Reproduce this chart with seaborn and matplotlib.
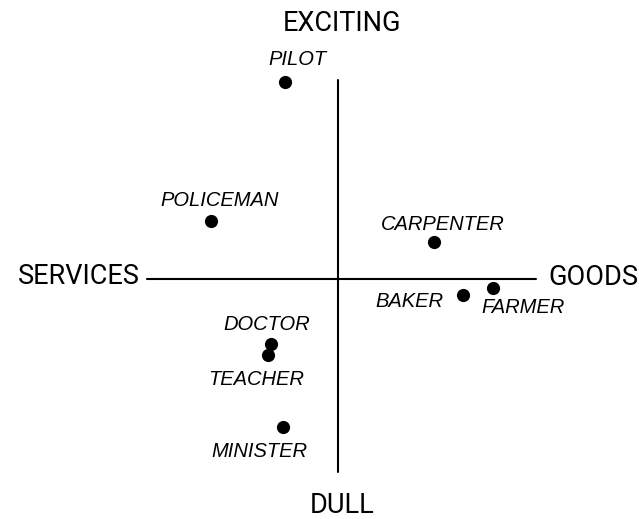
import numpy as np
import pandas as pd
import matplotlib
matplotlib.use("Agg")
import matplotlib.pyplot as plt
import seaborn as sns

# dados (eixo x: serviços -> bens, eixo y: chato -> emocionante)
jobs = ["PILOT", "POLICEMAN", "CARPENTER", "BAKER", "FARMER", "DOCTOR", "TEACHER", "MINISTER"]
goods = [-2.73, -6.53, 4.91, 6.38, 7.92, -3.47, -3.62, -2.85]
exciting = [10.10, 2.97, 1.90, -0.84, -0.49, -3.35, -3.91, -7.62]

axis_labels = ["EXCITING", "DULL", "SERVICES", "GOODS"]

df = pd.DataFrame({"job": jobs, "goods": goods, "exciting": exciting})

sns.set_theme(style="white")
plt.rcParams['font.family'] = ['Liberation Sans', 'DejaVu Sans']
plt.rcParams['text.color'] = 'black'

fig = plt.figure(figsize=(6.39, 5.19), dpi=100)
ax = fig.add_axes([0, 0, 1, 1])

# eixos cruzados
x_ends = (-9.83, 10.12)
y_ends = (-9.9, 10.19)
ax.plot(x_ends, [0, 0], color="black", lw=1.5)
ax.plot([0, 0], y_ends, color="black", lw=1.5)

sns.scatterplot(data=df, x="goods", y="exciting", s=90, color="black",
                edgecolor="black", linewidth=0, ax=ax, zorder=3)

# posição dos rótulos em relação aos pontos (pt)
offsets = {
    "PILOT": (9, 16, "center"),
    "POLICEMAN": (6, 14.4, "center"),
    "CARPENTER": (6.5, 12.7, "center"),
    "BAKER": (-14, -4.3, "right"),
    "FARMER": (-8, -14, "left"),
    "DOCTOR": (-2.7, 13.7, "center"),
    "TEACHER": (-8, -18, "center"),
    "MINISTER": (-17, -17.6, "center"),
}
for _, r in df.iterrows():
    dx, dy, ha = offsets[r["job"]]
    ax.annotate(r["job"], (r["goods"], r["exciting"]), xytext=(dx, dy),
                textcoords="offset points", ha=ha, va="center",
                fontsize=14.5, style="italic", color="black")

big = dict(fontsize=19.5, va="center", textcoords="offset points",
           family=['Roboto', 'DejaVu Sans'], color="black")
ax.annotate(axis_labels[0], (0, y_ends[1]), xytext=(3, 41), ha="center", **big)
ax.annotate(axis_labels[1], (0, y_ends[0]), xytext=(3, -24), ha="center", **big)
ax.annotate(axis_labels[2], (x_ends[0], 0), xytext=(-5, 1.5), ha="right", **big)
ax.annotate(axis_labels[3], (x_ends[1], 0), xytext=(9.5, 1.2), ha="left", **big)

ax.set_xlim(-338.3 / 19.5, (639 - 338.3) / 19.5)
ax.set_ylim((278.7 - 519) / 19.5, 278.7 / 19.5)
ax.axis("off")

plt.savefig("out.png", dpi=100, facecolor="white")
plt.close()
